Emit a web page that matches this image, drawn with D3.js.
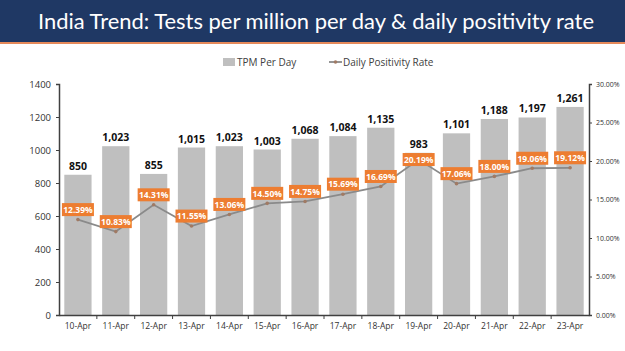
<!DOCTYPE html>
<html>
<head>
<meta charset="utf-8">
<script src="https://cdn.jsdelivr.net/npm/d3@7"></script>
<style>
  body { margin: 0; background: #fff; }
  text { font-family: "Open Sans", "Liberation Sans", sans-serif; }
</style>
</head>
<body>
<script>
const WIDTH = 625;
const HEIGHT = 351;

const fechas = ["10-Apr", "11-Apr", "12-Apr", "13-Apr", "14-Apr", "15-Apr", "16-Apr",
  "17-Apr", "18-Apr", "19-Apr", "20-Apr", "21-Apr", "22-Apr", "23-Apr"];
const tpm = [850, 1023, 855, 1015, 1023, 1003, 1068, 1084, 1135, 983, 1101, 1188, 1197, 1261];
const positividad = [12.39, 10.83, 14.31, 11.55, 13.06, 14.50, 14.75, 15.69, 16.69, 20.19, 17.06, 18.00, 19.06, 19.12];
const ticksIzq = [0, 200, 400, 600, 800, 1000, 1200, 1400];
const ticksDer = [0, 5, 10, 15, 20, 25, 30];

const SVG = d3.select("body").append("svg")
  .attr("width", WIDTH)
  .attr("height", HEIGHT);

// cabecera
SVG.append("rect").attr("x", 0).attr("y", 0).attr("width", WIDTH).attr("height", 42).attr("fill", "#1f3864");
SVG.append("rect").attr("x", 0).attr("y", 42).attr("width", WIDTH).attr("height", 2).attr("fill", "#e5895a");
SVG.append("text")
  .attr("x", 316).attr("y", 29)
  .attr("text-anchor", "middle")
  .attr("fill", "#fff")
  .attr("textLength", 556)
  .attr("lengthAdjust", "spacingAndGlyphs")
  .style("font-family", "Lato, 'Open Sans', sans-serif")
  .style("font-size", "22px")
  .text("India Trend: Tests per million per day & daily positivity rate");

const margen = { left: 59, right: 589, top: 84, bottom: 315 };

const x = d3.scaleBand().domain(fechas).range([margen.left, margen.right]).paddingInner(0.28).paddingOuter(0.14);
const yIzq = d3.scaleLinear().domain([0, 1400]).range([margen.bottom, margen.top]);
const yDer = d3.scaleLinear().domain([0, 30]).range([margen.bottom, margen.top]);

// barras
SVG.append("g").selectAll("rect")
  .data(tpm)
  .join("rect")
  .attr("x", (d, i) => x(fechas[i]))
  .attr("y", (d) => yIzq(d))
  .attr("width", x.bandwidth())
  .attr("height", (d) => yIzq(0) - yIzq(d))
  .attr("fill", "#bfbfbf");

SVG.append("g").selectAll("text")
  .data(tpm)
  .join("text")
  .attr("x", (d, i) => x(fechas[i]) + x.bandwidth() / 2)
  .attr("y", (d) => yIzq(d) - 5)
  .attr("text-anchor", "middle")
  .style("font-size", "10.5px")
  .style("font-weight", "bold")
  .attr("fill", "#111")
  .text((d) => d3.format(",")(d));

// ejes
const ejeIzq = SVG.append("g")
  .attr("transform", `translate(${margen.left},0)`)
  .call(d3.axisLeft(yIzq).tickValues(ticksIzq).tickSize(3).tickPadding(5).tickFormat(d3.format("d")));
const ejeDer = SVG.append("g")
  .attr("transform", `translate(${margen.right},0)`)
  .call(d3.axisRight(yDer).tickValues(ticksDer).tickSize(3).tickPadding(4)
    .tickFormat((d) => d.toFixed(2) + "%"));
const ejeX = SVG.append("g")
  .attr("transform", `translate(0,${margen.bottom})`)
  .call(d3.axisBottom(x).tickSize(0).tickPadding(8));

// marcas entre categorías
SVG.append("g").selectAll("line")
  .data(fechas.slice(1))
  .join("line")
  .attr("x1", (d) => x(d) - x.step() * x.paddingInner() / 2)
  .attr("x2", (d) => x(d) - x.step() * x.paddingInner() / 2)
  .attr("y1", margen.bottom)
  .attr("y2", margen.bottom + 4)
  .attr("stroke", "#404040");

[ejeIzq, ejeDer, ejeX].forEach((g) => {
  g.select(".domain").attr("stroke", "#404040").attr("stroke-width", 1.5);
  g.selectAll(".tick line").attr("stroke", "#404040");
  g.selectAll(".tick text").attr("fill", "#333").style("font-family", "'Open Sans', sans-serif");
});
ejeIzq.selectAll(".tick text").style("font-size", "9.5px");
ejeDer.selectAll(".tick text").style("font-size", "7px");
ejeX.selectAll(".tick text").style("font-size", "8.5px");

// línea de positividad
const linea = d3.line()
  .x((d, i) => x(fechas[i]) + x.bandwidth() / 2)
  .y((d) => yDer(d));

SVG.append("path")
  .datum(positividad)
  .attr("d", linea)
  .attr("fill", "none")
  .attr("stroke", "#8a8a8a")
  .attr("stroke-width", 1.8);

SVG.append("g").selectAll("circle")
  .data(positividad)
  .join("circle")
  .attr("cx", (d, i) => x(fechas[i]) + x.bandwidth() / 2)
  .attr("cy", (d) => yDer(d))
  .attr("r", 1.8)
  .attr("fill", "#a07a64");

// etiquetas naranjas (la del máximo va centrada sobre el punto)
const maximo = d3.maxIndex(positividad);
const etiquetas = SVG.append("g").selectAll("g")
  .data(positividad)
  .join("g")
  .attr("transform", (d, i) => `translate(${x(fechas[i]) + x.bandwidth() / 2},${yDer(d) - (i === maximo ? 0 : 10)})`);

etiquetas.append("rect")
  .attr("x", -16).attr("y", -6.5)
  .attr("width", 32).attr("height", 13)
  .attr("fill", "#ed7d31");

etiquetas.append("text")
  .attr("y", 3.3)
  .attr("text-anchor", "middle")
  .attr("fill", "#fff")
  .style("font-size", "8.5px")
  .style("font-weight", "bold")
  .text((d) => d.toFixed(2) + "%");

// leyenda
const leyenda = SVG.append("g");
leyenda.append("rect").attr("x", 223).attr("y", 58).attr("width", 12).attr("height", 8).attr("fill", "#bfbfbf");
leyenda.append("text").attr("x", 237).attr("y", 66).style("font-size", "10px").attr("fill", "#404040").text("TPM Per Day");
leyenda.append("line").attr("x1", 329).attr("x2", 342).attr("y1", 62).attr("y2", 62).attr("stroke", "#8a8a8a").attr("stroke-width", 1.8);
leyenda.append("circle").attr("cx", 335.5).attr("cy", 62).attr("r", 1.8).attr("fill", "#a07a64");
leyenda.append("text").attr("x", 343).attr("y", 66).style("font-size", "10px").attr("fill", "#404040").text("Daily Positivity Rate");
</script>
</body>
</html>
